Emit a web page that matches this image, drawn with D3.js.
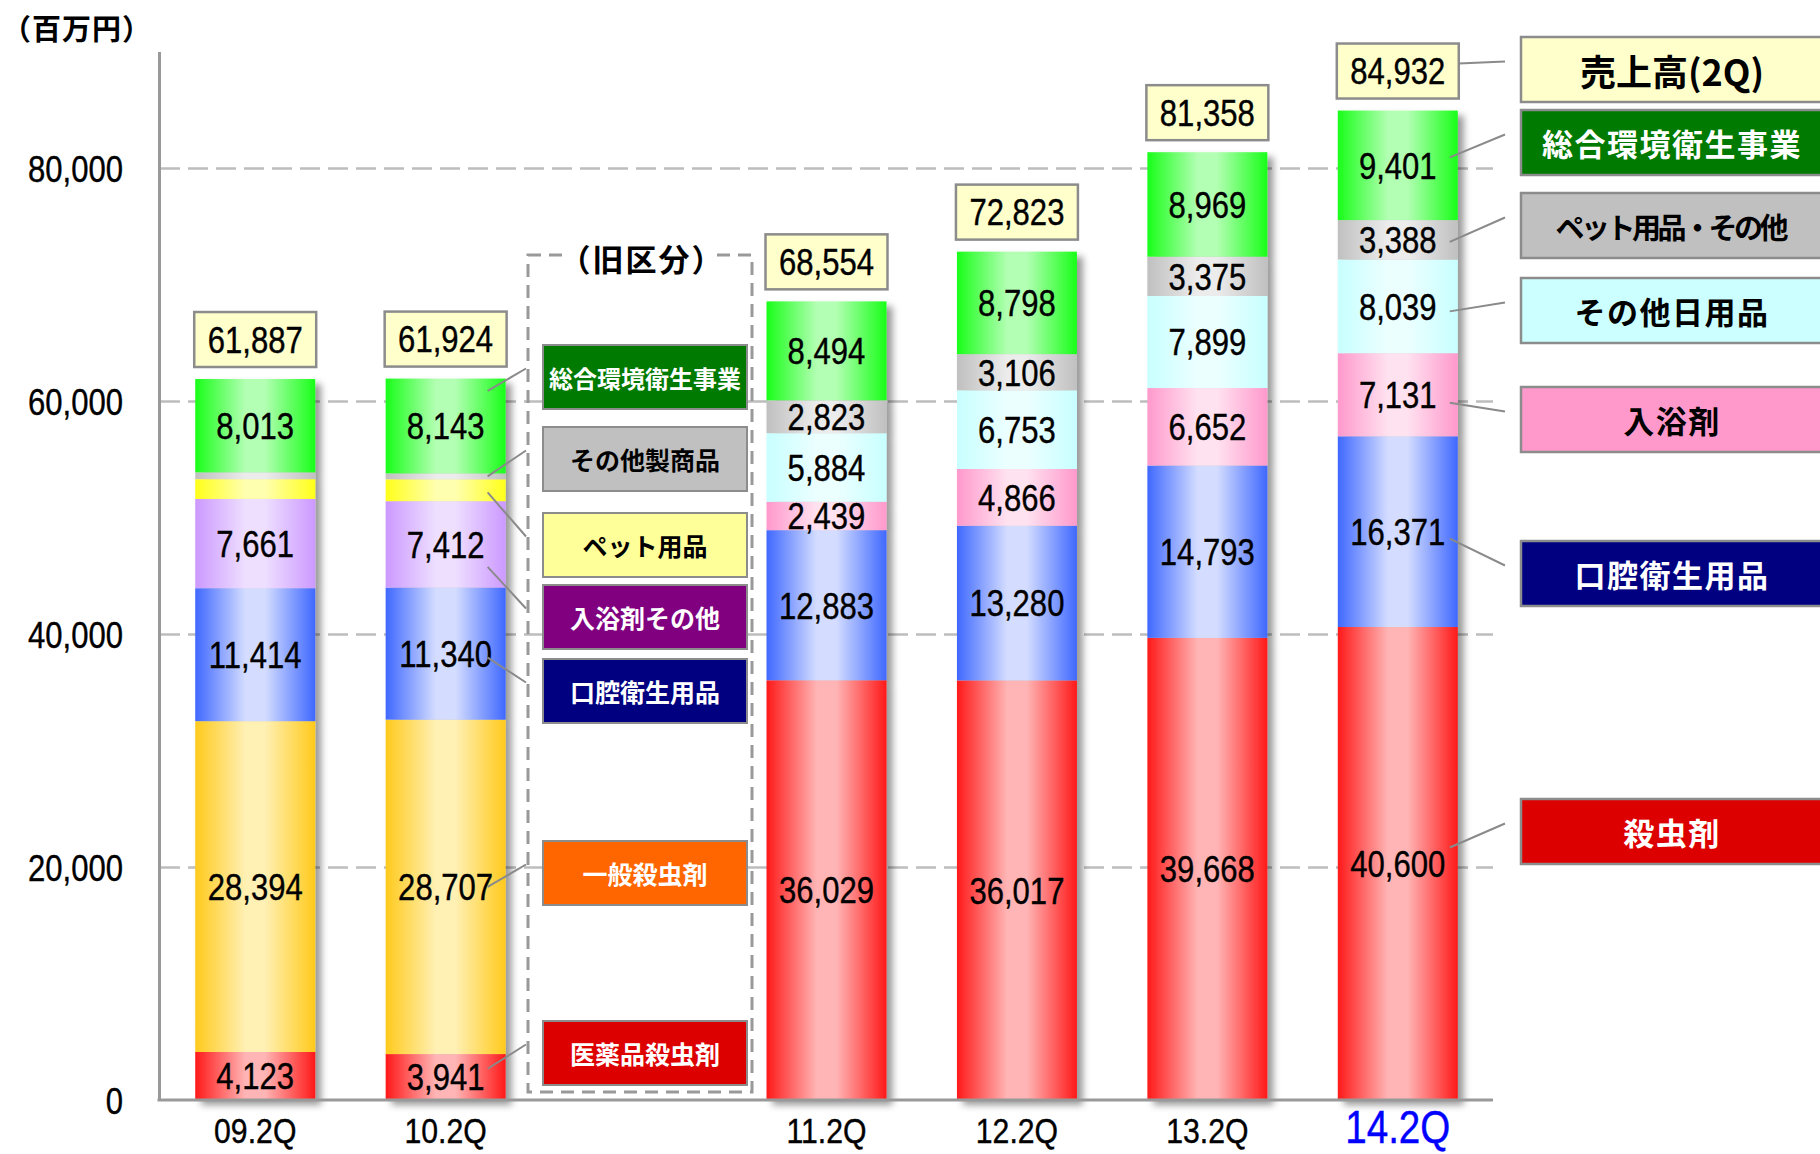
<!DOCTYPE html>
<html>
<head>
<meta charset="utf-8">
<script src="https://cdn.jsdelivr.net/npm/d3@7"></script>
<style>
  body { margin: 0; background: #fff; }
  svg { display: block; }
  .num { font-family: "Liberation Sans", "Arial", sans-serif; }
  .num text, text.num { stroke: currentColor; stroke-width: 0.4px; }
  .jp { font-family: "Noto Sans CJK JP", "Noto Sans", sans-serif; font-weight: 700; }
</style>
</head>
<body>
<svg id="chart" width="1820" height="1154"></svg>
<script>
// ---- data (百万円) ----
const periods = ["09.2Q", "10.2Q", "11.2Q", "12.2Q", "13.2Q", "14.2Q"];
const slots = ["09.2Q", "10.2Q", "gap", "11.2Q", "12.2Q", "13.2Q", "14.2Q"];
const totals = [61887, 61924, 68554, 72823, 81358, 84932];
const yTicks = [0, 20000, 40000, 60000, 80000];

// 旧区分 (bottom → top)
const oldPeriods = ["09.2Q", "10.2Q"];
const oldSeries = ["医薬品殺虫剤", "一般殺虫剤", "口腔衛生用品", "入浴剤その他", "ペット用品", "その他製商品", "総合環境衛生事業"];
const old09 = [4123, 28394, 11414, 7661, 1700, 582, 8013];
const old10 = [3941, 28707, 11340, 7412, 1880, 501, 8143];
const oldShown = [true, true, true, true, false, false, true];

// 新区分 (bottom → top)
const newPeriods = ["11.2Q", "12.2Q", "13.2Q", "14.2Q"];
const newSeries = ["殺虫剤", "口腔衛生用品", "入浴剤", "その他日用品", "ペット用品・その他", "総合環境衛生事業"];
const new11 = [36029, 12883, 2439, 5884, 2823, 8494];
const new12 = [36017, 13280, 4866, 6753, 3106, 8798];
const new13 = [39668, 14793, 6652, 7899, 3375, 8969];
const new14 = [40600, 16371, 7131, 8039, 3388, 9401];

// ---- bar fills: [edge, centre] of the cylinder-like gradient ----
const barFill = {
  "医薬品殺虫剤": ["#ff1919", "#ffb5b5"],
  "殺虫剤": ["#ff1919", "#ffb5b5"],
  "一般殺虫剤": ["#ffca1c", "#fff0b4"],
  "口腔衛生用品": ["#3f68ff", "#d4ddff"],
  "入浴剤その他": ["#cc99ff", "#eedfff"],
  "入浴剤": ["#ff99cc", "#ffe2f0"],
  "ペット用品": ["#ffff1a", "#ffffb0"],
  "その他製商品": ["#c0c0c0", "#ececec"],
  "ペット用品・その他": ["#c0c0c0", "#ececec"],
  "その他日用品": ["#c8ffff", "#ecffff"],
  "総合環境衛生事業": ["#19ff19", "#b3ffb3"]
};

// legend boxes
const oldLegend = [
  { key: "総合環境衛生事業", fill: "#007a00", text: "#fff", top: 345, size: 24 },
  { key: "その他製商品", fill: "#c0c0c0", text: "#000", top: 427, size: 25 },
  { key: "ペット用品", fill: "#ffff99", text: "#000", top: 513, size: 25 },
  { key: "入浴剤その他", fill: "#800080", text: "#fff", top: 585, size: 25 },
  { key: "口腔衛生用品", fill: "#000080", text: "#fff", top: 659, size: 25 },
  { key: "一般殺虫剤", fill: "#ff6600", text: "#fff", top: 841, size: 25 },
  { key: "医薬品殺虫剤", fill: "#dd0000", text: "#fff", top: 1021, size: 25 }
];
// where along each 10.2Q segment its leader line starts (0 = bottom, 1 = top)
const oldLeaderAt = { "医薬品殺虫剤": 0.68, "一般殺虫剤": 0.5, "口腔衛生用品": 0.47, "入浴剤その他": 0.24, "ペット用品": 0.4, "その他製商品": 0.5, "総合環境衛生事業": 0.87 };

const newLegend = [
  { key: "売上高(2Q)", fill: "#ffffcc", text: "#000", top: 37, size: 36, weight: 500 },
  { key: "総合環境衛生事業", fill: "#007a00", text: "#fff", top: 110, size: 31 },
  { key: "ペット用品・その他", fill: "#c0c0c0", text: "#000", top: 193, size: 29, len: 233 },
  { key: "その他日用品", fill: "#ccffff", text: "#000", top: 278, size: 31 },
  { key: "入浴剤", fill: "#ff99cc", text: "#000", top: 387, size: 31 },
  { key: "口腔衛生用品", fill: "#000080", text: "#fff", top: 541, size: 31 },
  { key: "殺虫剤", fill: "#dd0000", text: "#fff", top: 799, size: 31 }
];
const newLeaderDy = { "殺虫剤": -16, "口腔衛生用品": 7, "入浴剤": 8, "その他日用品": 5, "ペット用品・その他": 2, "総合環境衛生事業": -8 };

// ---- scales ----
const x = d3.scaleBand().domain(slots).range([160, 1493]).paddingInner(0.37).paddingOuter(0.185);
const y = d3.scaleLinear().domain([0, 90000]).range([1100, 51.5]);
const bw = x.bandwidth();
const fmt = d3.format(",");

// narrow the figures horizontally, keeping their anchor point
function condense(sel, k = 0.84) {
  sel.each(function () {
    const t = d3.select(this);
    const tx = +t.attr("x") || 0;
    t.attr("x", tx / k).attr("transform", `scale(${k},1)`);
  });
}

const svg = d3.select("#chart");
const defs = svg.append("defs");

const gradId = {};
Object.entries(barFill).forEach(([k, [edge, mid]], i) => {
  const id = "g" + i;
  gradId[k] = id;
  const g = defs.append("linearGradient").attr("id", id)
    .attr("x1", 0).attr("x2", 1).attr("y1", 0).attr("y2", 0);
  [[0, edge], [0.42, mid], [0.58, mid], [1, edge]].forEach(([o, c]) =>
    g.append("stop").attr("offset", o).attr("stop-color", c));
});

const shadow = defs.append("filter").attr("id", "shadow")
  .attr("x", "-20%").attr("y", "-5%").attr("width", "150%").attr("height", "115%");
shadow.append("feDropShadow").attr("dx", 6).attr("dy", 5).attr("stdDeviation", 3.5)
  .attr("flood-color", "#000").attr("flood-opacity", 0.4);

// ---- gridlines ----
svg.append("g").attr("transform", "translate(160,0)")
  .call(d3.axisLeft(y).tickValues(yTicks.filter(d => d > 0)).tickSize(-1333).tickFormat(""))
  .call(g => g.select(".domain").remove())
  .call(g => g.selectAll(".tick line").attr("stroke", "#bdbdbd").attr("stroke-width", 2.5)
    .attr("stroke-dasharray", "20,8"));

// ---- stacks ----
function stackRows(pers, keys, arrays) {
  const rows = pers.map((p, i) => {
    const r = { period: p };
    keys.forEach((k, j) => r[k] = arrays[i][j]);
    return r;
  });
  return d3.stack().keys(keys)(rows);
}
const oldStack = stackRows(oldPeriods, oldSeries, [old09, old10]);
const newStack = stackRows(newPeriods, newSeries, [new11, new12, new13, new14]);

const segments = [];
oldStack.forEach((layer, j) => layer.forEach(d =>
  segments.push({ period: d.data.period, key: layer.key, y0: d[0], y1: d[1], value: d.data[layer.key], shown: oldShown[j] })));
newStack.forEach(layer => layer.forEach(d =>
  segments.push({ period: d.data.period, key: layer.key, y0: d[0], y1: d[1], value: d.data[layer.key], shown: true })));

// ---- bars ----
const barG = svg.append("g");
periods.forEach(p => {
  barG.append("g").attr("filter", "url(#shadow)")
    .selectAll("rect").data(segments.filter(s => s.period === p)).join("rect")
    .attr("x", x(p)).attr("width", bw)
    .attr("y", d => y(d.y1)).attr("height", d => y(d.y0) - y(d.y1))
    .attr("fill", d => `url(#${gradId[d.key]})`);
});

// segment values
svg.append("g").attr("class", "num").style("color", "#000")
  .selectAll("text").data(segments.filter(s => s.shown)).join("text")
  .attr("x", d => x(d.period) + bw / 2)
  .attr("y", d => y((d.y0 + d.y1) / 2))
  .attr("dy", "0.36em").attr("text-anchor", "middle")
  .attr("font-size", 37).attr("fill", "#000")
  .text(d => fmt(d.value))
  .call(condense);

// total boxes
const totG = svg.append("g").attr("class", "num").style("color", "#000");
periods.forEach((p, i) => {
  const top = y(totals[i]) - 12 - 55;
  totG.append("rect").attr("x", x(p) - 1).attr("y", top).attr("width", bw + 2).attr("height", 55)
    .attr("fill", "#ffffcc").attr("stroke", "#8c8c8c").attr("stroke-width", 2.5);
  totG.append("text").attr("x", x(p) + bw / 2).attr("y", top + 27.5).attr("dy", "0.36em")
    .attr("text-anchor", "middle").attr("font-size", 37).text(fmt(totals[i]))
    .call(condense);
});

// ---- axes ----
svg.append("g").attr("class", "num").style("color", "#000").attr("transform", "translate(159,0)")
  .call(d3.axisLeft(y).tickValues(yTicks).tickSize(0).tickPadding(36).tickSizeOuter(0).tickFormat(fmt))
  .call(g => g.select(".domain").attr("stroke", "#999").attr("stroke-width", 3))
  .call(g => g.selectAll("text").attr("font-size", 37).attr("fill", "#000").attr("dy", "0.36em").call(condense));

svg.append("g").attr("class", "num").style("color", "#000").attr("transform", "translate(0,1100)")
  .call(d3.axisBottom(x).tickValues(periods).tickSize(0).tickSizeOuter(0))
  .call(g => g.select(".domain").attr("stroke", "#999").attr("stroke-width", 3).attr("d", "M157.5,0H1493"))
  .call(g => g.selectAll("text").attr("dy", 0).attr("y", 43).attr("font-size", 36).attr("fill", "#000"))
  .call(g => g.selectAll(".tick").filter(d => d === "14.2Q").select("text")
    .attr("font-size", 46).attr("y", 43).attr("fill", "#0000ff").style("color", "#0000ff"))
  .call(g => g.selectAll("text").call(condense));

// unit
svg.append("text").attr("class", "jp").attr("x", 2).attr("y", 40)
  .attr("font-size", 29).attr("letter-spacing", 1).text("（百万円）");

// ---- 旧区分 legend ----
const lg = svg.append("g");
lg.append("rect").attr("x", 528).attr("y", 255).attr("width", 224).attr("height", 837)
  .attr("fill", "none").attr("stroke", "#999").attr("stroke-width", 3).attr("stroke-dasharray", "13,8");
lg.append("rect").attr("x", 568).attr("y", 240).attr("width", 148).attr("height", 30).attr("fill", "#fff");
lg.append("text").attr("class", "jp").attr("x", 642).attr("y", 257)
  .attr("text-anchor", "middle").attr("dominant-baseline", "central").attr("font-size", 31)
  .attr("letter-spacing", 2).text("（旧区分）");
oldLegend.forEach(d => {
  lg.append("rect").attr("x", 543).attr("y", d.top).attr("width", 204).attr("height", 64)
    .attr("fill", d.fill).attr("stroke", "#8c8c8c").attr("stroke-width", 2);
  lg.append("text").attr("class", "jp").attr("x", 645).attr("y", d.top + 32)
    .attr("text-anchor", "middle").attr("dominant-baseline", "central")
    .attr("font-size", d.size).attr("fill", d.text).text(d.key);
});
// leaders from 10.2Q segments
const lead = svg.append("g").attr("stroke", "#8a8a8a").attr("stroke-width", 2).attr("fill", "none");
segments.filter(s => s.period === "10.2Q").forEach(s => {
  const box = oldLegend.find(b => b.key === s.key);
  const f = oldLeaderAt[s.key];
  lead.append("line")
    .attr("x1", x("10.2Q") + bw - 18).attr("y1", y(s.y0 + (s.y1 - s.y0) * f))
    .attr("x2", 526).attr("y2", box.top + 32 - 8.5);
});

// ---- 新区分 legend ----
const rg = svg.append("g");
newLegend.forEach(d => {
  rg.append("rect").attr("x", 1521).attr("y", d.top).attr("width", 320).attr("height", 65)
    .attr("fill", d.fill).attr("stroke", "#8c8c8c").attr("stroke-width", 2.5);
  const t = rg.append("text").attr("class", "jp").attr("x", 1672).attr("y", d.top + 32.5)
    .attr("text-anchor", "middle").attr("dominant-baseline", "central")
    .attr("font-size", d.size).attr("font-weight", d.weight || 700)
    .attr("letter-spacing", d.weight || d.len ? 0 : 1.5)
    .attr("fill", d.text).text(d.key);
  if (d.len) t.attr("textLength", d.len).attr("lengthAdjust", "spacing");
});
// leaders from 14.2Q
const tBox = y(totals[5]) - 12 - 55;
lead.append("line").attr("x1", x("14.2Q") + bw + 1).attr("y1", tBox + 20)
  .attr("x2", 1505).attr("y2", newLegend[0].top + 24.5);
segments.filter(s => s.period === "14.2Q").forEach(s => {
  const box = newLegend.find(b => b.key === s.key);
  lead.append("line")
    .attr("x1", x("14.2Q") + bw - 8).attr("y1", y((s.y0 + s.y1) / 2) + newLeaderDy[s.key])
    .attr("x2", 1505).attr("y2", box.top + 24.5);
});
</script>
</body>
</html>
